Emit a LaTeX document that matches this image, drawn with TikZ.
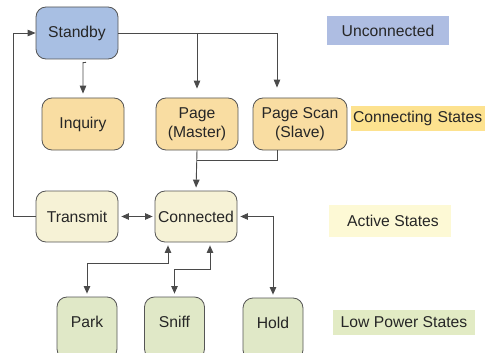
\documentclass[tikz,border=0pt]{standalone}
\usepackage{fontspec}
\setmainfont{Liberation Sans}
\usetikzlibrary{arrows.meta,calc}
\definecolor{bordc}{HTML}{555555}
\definecolor{linec}{HTML}{4A4A4A}
\definecolor{bluef}{HTML}{A8BFE3}
\definecolor{bluel}{HTML}{AEBDE2}
\definecolor{yelf}{HTML}{F9DDA2}
\definecolor{yell}{HTML}{FDE28F}
\definecolor{actf}{HTML}{F6F2D6}
\definecolor{actl}{HTML}{FDF9D5}
\definecolor{lowf}{HTML}{E0E8C7}
\definecolor{lowl}{HTML}{E2EBC4}
\tikzset{
  every node/.style={font=\fontsize{15.7}{19}\selectfont, text=black!85, align=center},
  state/.style={draw=bordc, line width=0.8pt, rounded corners=10pt, minimum width=82pt, minimum height=52pt, inner sep=0pt},
  lowstate/.style={state, minimum width=60pt, minimum height=62pt, text height=11pt, text depth=12pt},
  legend/.style={inner sep=0pt},
  conn/.style={draw=linec, line width=0.9pt},
  arr/.style={conn, -{Triangle[length=8pt,width=6.5pt]}},
  darr/.style={conn, {Triangle[length=7.5pt,width=6.5pt]}-{Triangle[length=7.5pt,width=6.5pt]}}
}
\begin{document}
\begin{tikzpicture}[x=1pt,y=-1pt]
\useasboundingbox (0,0) rectangle (485,353);
% states
\node[state, fill=bluef] (standby) at (77,33) {Standby};
\node[state, fill=yelf] (inquiry) at (83,124) {Inquiry};
\node[state, fill=yelf] (pagem) at (197,124) {Page\\(Master)};
\node[state, fill=yelf, minimum width=94pt] (pages) at (300,124) {Page Scan\\(Slave)};
\node[state, fill=actf, minimum height=51pt] (transmit) at (77,216.5) {Transmit};
\node[state, fill=actf, minimum height=51pt] (connected) at (196,216.5) {Connected};
\node[lowstate, fill=lowf] (park) at (87,328) {Park};
\node[lowstate, fill=lowf] (sniff) at (174.5,328) {Sniff};
\node[lowstate, fill=lowf] (hold) at (273,329) {Hold};
% legend
\node[legend, fill=bluel, minimum width=122pt, minimum height=29pt] (lu) at (388,30.5) {Unconnected};
\node[legend, fill=yell, minimum width=134pt, minimum height=25pt, text width=130pt, align=left] (lc) at (418,118.5) {Connecting States};
\node[legend, fill=actl, minimum width=122pt, minimum height=32pt] (la) at (390,221) {\hspace{6pt}Active States};
\node[legend, fill=lowl, minimum width=142pt, minimum height=25pt] (ll) at (404,322.5) {Low Power States};
% connectors
\coordinate (lft) at (13,33);
\draw[arr] (transmit.west) -| (lft) -- (standby.west);
\draw[arr, shorten >=10pt] (standby.east) -| ($(pages.north)+(-23,0)$);
\draw[arr, shorten >=9pt] (standby.east -| pagem.north) -- (pagem.north);
\draw[arr, shorten >=4pt] ($(standby.south)+(9,3)$) -- ($(inquiry.north)+(0,-35)$) -- (inquiry.north);
\draw[arr, shorten >=3pt] (pagem.south) -- (connected.north);
\draw[conn] ($(pages.south)+(-23,0)$) |- ($(pagem.south)+(0,10)$);
\draw[darr, shorten <=3pt, shorten >=2pt] (transmit.east) -- (connected.west);
\draw[darr, shorten <=3pt, shorten >=3pt] (connected.east) -| (hold.north);
\draw[darr, shorten <=3pt, shorten >=3pt] ($(connected.south)+(-28,0)$) -- ++(0,21) -| (park.north);
\draw[darr, shorten <=3pt, shorten >=3pt] ($(connected.south)+(14,0)$) -- ++(0,27) -| (sniff.north);
\end{tikzpicture}
\end{document}
